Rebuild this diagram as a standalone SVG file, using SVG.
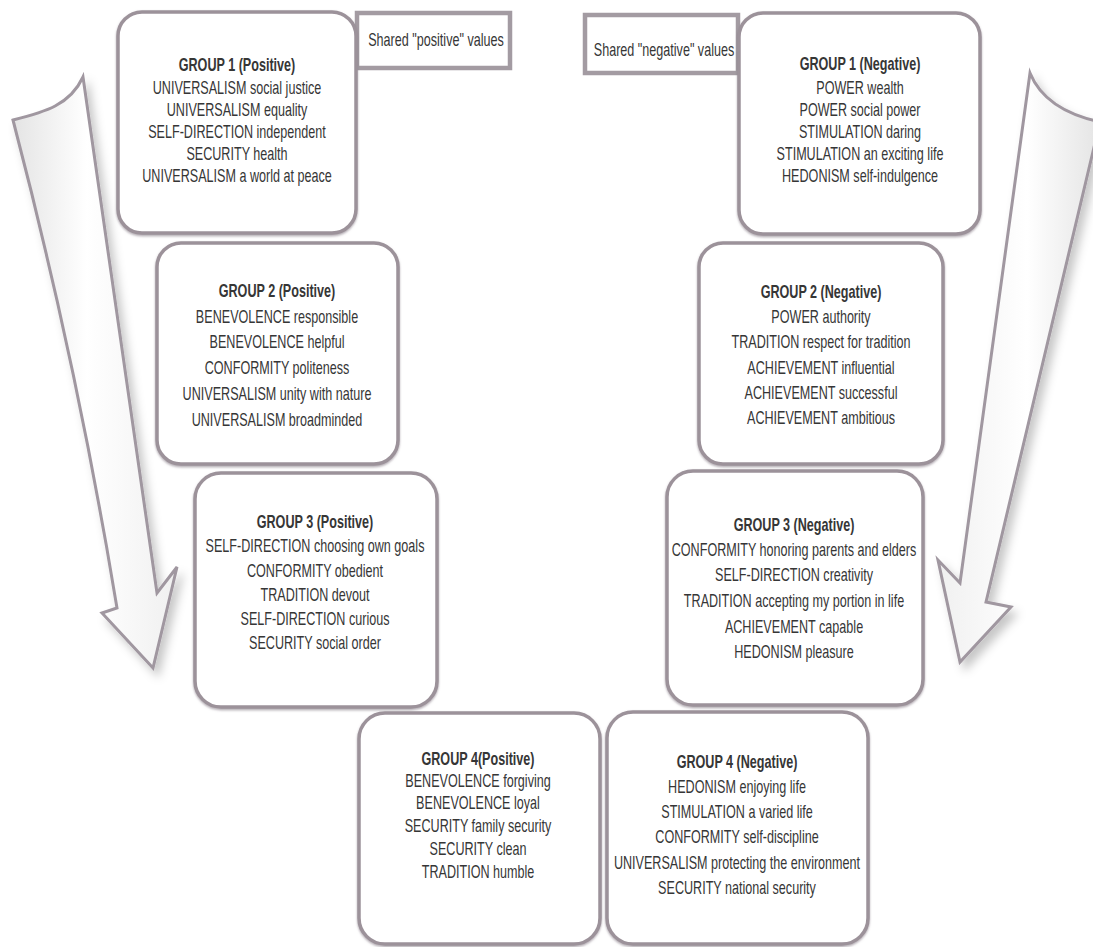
<svg xmlns="http://www.w3.org/2000/svg" width="1093" height="947" viewBox="0 0 1093 947">
<defs>
<style>
.box{fill:#ffffff;stroke:#9c929a;stroke-width:3.5;filter:url(#bs)}
.sbox{fill:#ffffff;stroke:#a39ba2;stroke-width:4.5}
.arrow{stroke:#a097a0;stroke-width:3;stroke-linejoin:miter;filter:url(#as)}
.t{font-family:"Liberation Sans",Arial,sans-serif;font-size:18px;fill:#363636;text-anchor:middle}
.b{font-weight:bold}
</style>
<linearGradient id="gl" x1="0" y1="0" x2="1" y2="0">
<stop offset="0" stop-color="#e4e4e4"/>
<stop offset="0.45" stop-color="#ffffff"/>
<stop offset="1" stop-color="#f0f0f0"/>
</linearGradient>
<linearGradient id="gr" x1="0" y1="0" x2="1" y2="0">
<stop offset="0" stop-color="#f0f0f0"/>
<stop offset="0.55" stop-color="#ffffff"/>
<stop offset="1" stop-color="#e4e4e4"/>
</linearGradient>
<filter id="as" x="-30%" y="-10%" width="160%" height="130%">
<feDropShadow dx="5" dy="7" stdDeviation="5" flood-color="#000" flood-opacity="0.22"/>
</filter>
<filter id="bs" x="-5%" y="-5%" width="110%" height="110%">
<feDropShadow dx="0" dy="1.5" stdDeviation="0.8" flood-color="#7d717b" flood-opacity="0.6"/>
</filter>
</defs>
<rect width="1093" height="947" fill="#ffffff"/>

<g id="connectors">
<path id="arrow-left" class="arrow" fill="url(#gl)" d="M 13,120 C 45,112 70,105 83,77 L 157,593 L 177,567 L 153,668 L 102,613 L 117,608 Q 77,364 13,120 Z"/>
<path id="arrow-right" class="arrow" fill="url(#gr)" d="M 1030,73 Q 1045,110 1100,122 L 986,602 L 1011,607 L 960,662 L 938,560 L 960,583 Z"/>
</g>

<g id="shared-positive">
<rect class="sbox" x="357" y="13" width="153" height="55"/>
<g transform="translate(436,0) scale(0.70,1)"><text class="t" x="0" y="46.5">Shared "positive" values</text></g>
</g>

<g id="shared-negative">
<rect class="sbox" x="585" y="15" width="153" height="58"/>
<g transform="translate(664,0) scale(0.70,1)"><text class="t" x="0" y="56">Shared "negative" values</text></g>
</g>

<g id="group1-positive">
<rect class="box" x="118" y="12" width="238" height="221" rx="24"/>
<g transform="translate(237,0) scale(0.70,1)">
<text class="t b" x="0" y="71">GROUP 1 (Positive)</text>
<text class="t" x="0" y="94.5">UNIVERSALISM social justice</text>
<text class="t" x="0" y="116.5">UNIVERSALISM equality</text>
<text class="t" x="0" y="138.5">SELF-DIRECTION independent</text>
<text class="t" x="0" y="160.5">SECURITY health</text>
<text class="t" x="0" y="182.5">UNIVERSALISM a world at peace</text>
</g>
</g>

<g id="group1-negative">
<rect class="box" x="739" y="13" width="241" height="221" rx="24"/>
<g transform="translate(860,0) scale(0.70,1)">
<text class="t b" x="0" y="70">GROUP 1 (Negative)</text>
<text class="t" x="0" y="94.5">POWER wealth</text>
<text class="t" x="0" y="116.5">POWER social power</text>
<text class="t" x="0" y="138.5">STIMULATION daring</text>
<text class="t" x="0" y="160.5">STIMULATION an exciting life</text>
<text class="t" x="0" y="182.5">HEDONISM self-indulgence</text>
</g>
</g>

<g id="group2-positive">
<rect class="box" x="157" y="243" width="241" height="221" rx="24"/>
<g transform="translate(277,0) scale(0.70,1)">
<text class="t b" x="0" y="297.5">GROUP 2 (Positive)</text>
<text class="t" x="0" y="323.5">BENEVOLENCE responsible</text>
<text class="t" x="0" y="348.5">BENEVOLENCE helpful</text>
<text class="t" x="0" y="374.5">CONFORMITY politeness</text>
<text class="t" x="0" y="400.5">UNIVERSALISM unity with nature</text>
<text class="t" x="0" y="426.5">UNIVERSALISM broadminded</text>
</g>
</g>

<g id="group2-negative">
<rect class="box" x="699" y="243" width="244" height="221" rx="24"/>
<g transform="translate(821,0) scale(0.70,1)">
<text class="t b" x="0" y="298.5">GROUP 2 (Negative)</text>
<text class="t" x="0" y="323.5">POWER authority</text>
<text class="t" x="0" y="348.5">TRADITION respect for tradition</text>
<text class="t" x="0" y="374.5">ACHIEVEMENT influential</text>
<text class="t" x="0" y="399.5">ACHIEVEMENT successful</text>
<text class="t" x="0" y="424.5">ACHIEVEMENT ambitious</text>
</g>
</g>

<g id="group3-positive">
<rect class="box" x="195" y="473" width="242" height="234" rx="26"/>
<g transform="translate(315,0) scale(0.70,1)">
<text class="t b" x="0" y="528.5">GROUP 3 (Positive)</text>
<text class="t" x="0" y="552.5">SELF-DIRECTION choosing own goals</text>
<text class="t" x="0" y="577.5">CONFORMITY obedient</text>
<text class="t" x="0" y="601.5">TRADITION devout</text>
<text class="t" x="0" y="625.5">SELF-DIRECTION curious</text>
<text class="t" x="0" y="649.5">SECURITY social order</text>
</g>
</g>

<g id="group3-negative">
<rect class="box" x="667" y="471" width="256" height="234" rx="26"/>
<g transform="translate(794,0) scale(0.70,1)">
<text class="t b" x="0" y="531.5">GROUP 3 (Negative)</text>
<text class="t" x="0" y="556.5">CONFORMITY honoring parents and elders</text>
<text class="t" x="0" y="581.5">SELF-DIRECTION creativity</text>
<text class="t" x="0" y="607.5">TRADITION accepting my portion in life</text>
<text class="t" x="0" y="633.5">ACHIEVEMENT capable</text>
<text class="t" x="0" y="658.5">HEDONISM pleasure</text>
</g>
</g>

<g id="group4-positive">
<rect class="box" x="359" y="713" width="241" height="231" rx="26"/>
<g transform="translate(478,0) scale(0.70,1)">
<text class="t b" x="0" y="765.5">GROUP 4(Positive)</text>
<text class="t" x="0" y="787.5">BENEVOLENCE forgiving</text>
<text class="t" x="0" y="809.5">BENEVOLENCE loyal</text>
<text class="t" x="0" y="832.5">SECURITY family security</text>
<text class="t" x="0" y="855.5">SECURITY clean</text>
<text class="t" x="0" y="878.5">TRADITION humble</text>
</g>
</g>

<g id="group4-negative">
<rect class="box" x="607" y="712" width="261" height="232" rx="26"/>
<g transform="translate(737,0) scale(0.70,1)">
<text class="t b" x="0" y="768.5">GROUP 4 (Negative)</text>
<text class="t" x="0" y="793.5">HEDONISM enjoying life</text>
<text class="t" x="0" y="818.5">STIMULATION a varied life</text>
<text class="t" x="0" y="843.5">CONFORMITY self-discipline</text>
<text class="t" x="0" y="869.5">UNIVERSALISM protecting the environment</text>
<text class="t" x="0" y="894.5">SECURITY national security</text>
</g>
</g>
</svg>
